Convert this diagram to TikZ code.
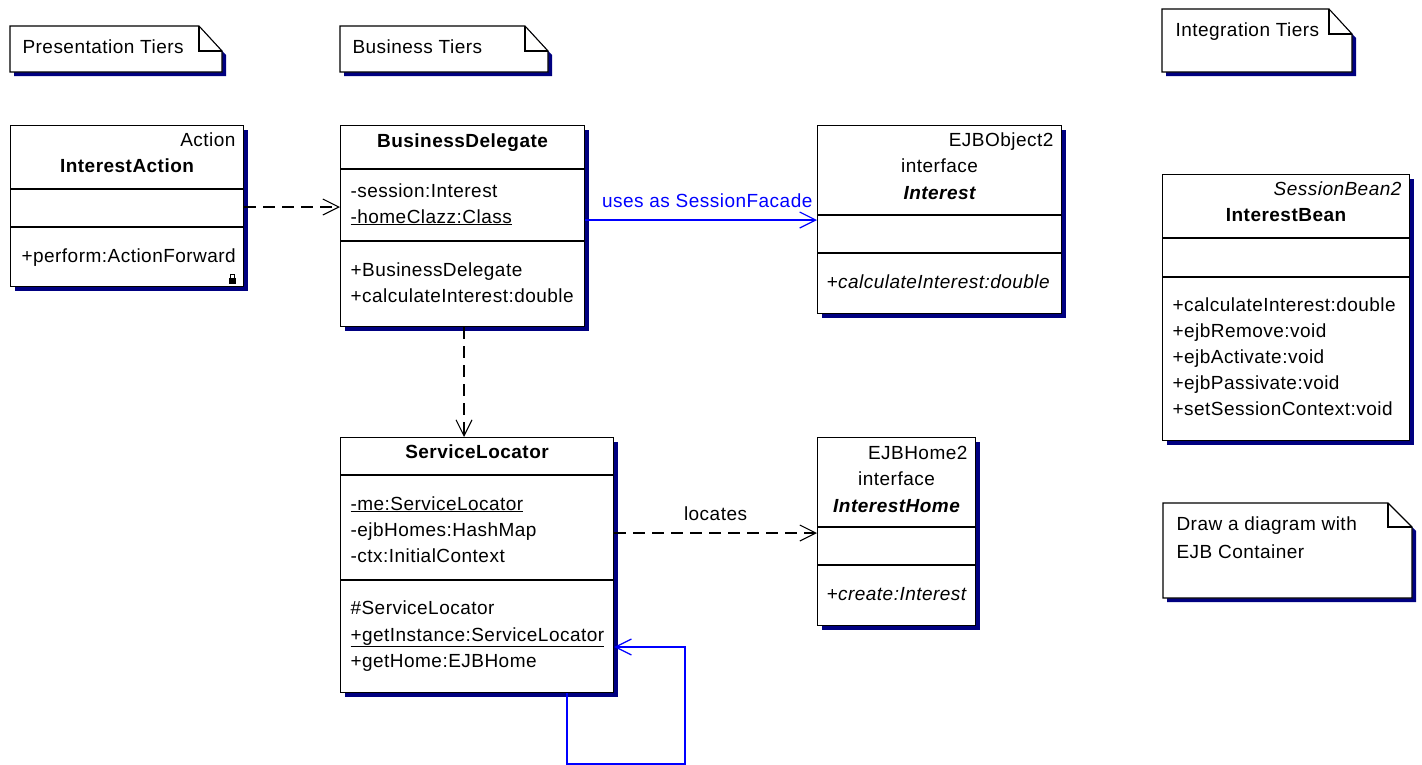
\documentclass[tikz,border=0pt]{standalone}
\usepackage{fontspec}
\usetikzlibrary{arrows.meta,shadows}
\newfontfamily\umlfont{Liberation Sans}[LetterSpace=2.5]
\newcommand\umlsize{\fontsize{19}{23}\selectfont}
\definecolor{navyshadow}{HTML}{000080}
\definecolor{linkblue}{HTML}{0000FF}

\begin{document}
\begin{tikzpicture}[x=1pt, y=-1pt, line width=1.1pt,
  box/.style={draw, fill=white, anchor=north west, inner sep=0pt, drop shadow={shadow xshift=4pt, shadow yshift=-4pt, fill=navyshadow, opacity=1}},
  note/.style={draw, fill=white, drop shadow={shadow xshift=4pt, shadow yshift=-4pt, fill=navyshadow, opacity=1}},
  txt/.style={inner sep=0pt, anchor=base west, font=\umlfont\umlsize},
  clsname/.style={txt, anchor=base, font=\umlfont\umlsize\bfseries},
  stereo/.style={txt, anchor=base east},
  dep/.style={line width=1.1pt, dash pattern=on 12pt off 7pt, -{Straight Barb[length=16pt,width=16pt]}},
  assoc/.style={line width=1.2pt, color=linkblue, -{Straight Barb[length=16pt,width=16pt]}}]
\useasboundingbox (0,0) rectangle (1422,764);

% notes
\draw[note] (10,26) -- (199,26) -- (222,51) -- (222,72) -- (10,72) -- cycle;
\draw (199,26) |- (222,51);
\node[txt] (prestier) at (22,53) {Presentation Tiers};

\draw[note] (340,26) -- (525,26) -- (548,51) -- (548,72) -- (340,72) -- cycle;
\draw (525,26) |- (548,51);
\node[txt] (bustier) at (352,53) {Business Tiers};

\draw[note] (1162,9) -- (1329,9) -- (1352,34) -- (1352,72) -- (1162,72) -- cycle;
\draw (1329,9) |- (1352,34);
\node[txt] (inttier) at (1175,36) {Integration Tiers};

\draw[note] (1163,503) -- (1388,503) -- (1412,527) -- (1412,598) -- (1163,598) -- cycle;
\draw (1388,503) |- (1412,527);
\node[txt] (ejbnote1) at (1176,530) {Draw a diagram with};
\node[txt] (ejbnote2) at (1176,558) {EJB Container};

% InterestAction
\node[box, minimum width=233pt, minimum height=161pt] (ia) at (10,125) {};
\draw (ia.west |- 0,189) -- (ia.east |- 0,189);
\draw (ia.west |- 0,227) -- (ia.east |- 0,227);
\node[stereo] (ia-st) at (236,146) {Action};
\node[clsname] (ia-nm) at (ia.north |- 0,172) {InterestAction};
\node[txt] (ia-m1) at (21,262) {+perform:ActionForward};
\fill (229,278) rectangle (236,284);
\draw[line width=0.9pt] (230.5,278) |- (234.5,274.5) -- (234.5,278);

% BusinessDelegate
\node[box, minimum width=244pt, minimum height=201pt] (bd) at (340,125) {};
\draw (bd.west |- 0,169) -- (bd.east |- 0,169);
\draw (bd.west |- 0,241) -- (bd.east |- 0,241);
\node[clsname] (bd-nm) at (bd.north |- 0,147) {BusinessDelegate};
\node[txt] (bd-a1) at (350,197) {-session:Interest};
\node[txt] (bd-a2) at (350,223) {\underline{-homeClazz:Class}};
\node[txt] (bd-m1) at (350,276) {+BusinessDelegate};
\node[txt] (bd-m2) at (350,302) {+calculateInterest:double};

% Interest
\node[box, minimum width=244pt, minimum height=188pt] (ib) at (817,125) {};
\draw (ib.west |- 0,215) -- (ib.east |- 0,215);
\draw (ib.west |- 0,253) -- (ib.east |- 0,253);
\node[stereo] (ib-st) at (1054,146) {EJBObject2};
\node[txt, anchor=base] (ib-kw) at (ib.north |- 0,172) {interface};
\node[clsname, font=\umlfont\umlsize\bfseries\itshape] (ib-nm) at (ib.north |- 0,199) {Interest};
\node[txt, font=\umlfont\umlsize\itshape] (ib-m1) at (826,288) {+calculateInterest:double};

% InterestBean
\node[box, minimum width=247pt, minimum height=266pt] (bean) at (1162,174) {};
\draw (bean.west |- 0,238) -- (bean.east |- 0,238);
\draw (bean.west |- 0,277) -- (bean.east |- 0,277);
\node[stereo, font=\umlfont\umlsize\itshape] (bean-st) at (1402,195) {SessionBean2};
\node[clsname] (bean-nm) at (bean.north |- 0,221) {InterestBean};
\node[txt] (bean-m1) at (1172,311) {+calculateInterest:double};
\node[txt] (bean-m2) at (1172,337) {+ejbRemove:void};
\node[txt] (bean-m3) at (1172,363) {+ejbActivate:void};
\node[txt] (bean-m4) at (1172,389) {+ejbPassivate:void};
\node[txt] (bean-m5) at (1172,415) {+setSessionContext:void};

% ServiceLocator
\node[box, minimum width=273pt, minimum height=255pt] (sl) at (340,437) {};
\draw (sl.west |- 0,475) -- (sl.east |- 0,475);
\draw (sl.west |- 0,580) -- (sl.east |- 0,580);
\node[clsname] (sl-nm) at (sl.north |- 0,458) {ServiceLocator};
\node[txt] (sl-a1) at (350,510) {\underline{-me:ServiceLocator}};
\node[txt] (sl-a2) at (350,536) {-ejbHomes:HashMap};
\node[txt] (sl-a3) at (350,562) {-ctx:InitialContext};
\node[txt] (sl-m1) at (350,614) {\#ServiceLocator};
\node[txt] (sl-m2) at (350,641) {\underline{+getInstance:ServiceLocator}};
\node[txt] (sl-m3) at (350,667) {+getHome:EJBHome};

% InterestHome
\node[box, minimum width=158pt, minimum height=188pt] (ih) at (817,437) {};
\draw (ih.west |- 0,527) -- (ih.east |- 0,527);
\draw (ih.west |- 0,565) -- (ih.east |- 0,565);
\node[stereo] (ih-st) at (968,459) {EJBHome2};
\node[txt, anchor=base] (ih-kw) at (ih.north |- 0,485) {interface};
\node[clsname, font=\umlfont\umlsize\bfseries\itshape] (ih-nm) at (ih.north |- 0,512) {InterestHome};
\node[txt, font=\umlfont\umlsize\itshape] (ih-m1) at (826,600) {+create:Interest};

% connectors
\draw[dep] (ia.east |- 0,207) -- (bd.west |- 0,207);
\draw[assoc] (bd.east |- 0,220) -- (ib.west |- 0,220)
  node[txt, anchor=base east, xshift=-4pt, yshift=13pt] (uses) {uses as SessionFacade};
\draw[dep] (bd.south -| 464,0) -- (sl.north -| 464,0);
\draw[dep] (sl.east |- 0,533) -- node[txt, anchor=base, yshift=13pt] (loc) {locates} (ih.west |- 0,533);
\draw[assoc] (sl.south -| 567,0) -- (567,764) -| (685,647) -- (sl.east |- 0,647);
\end{tikzpicture}
\end{document}
